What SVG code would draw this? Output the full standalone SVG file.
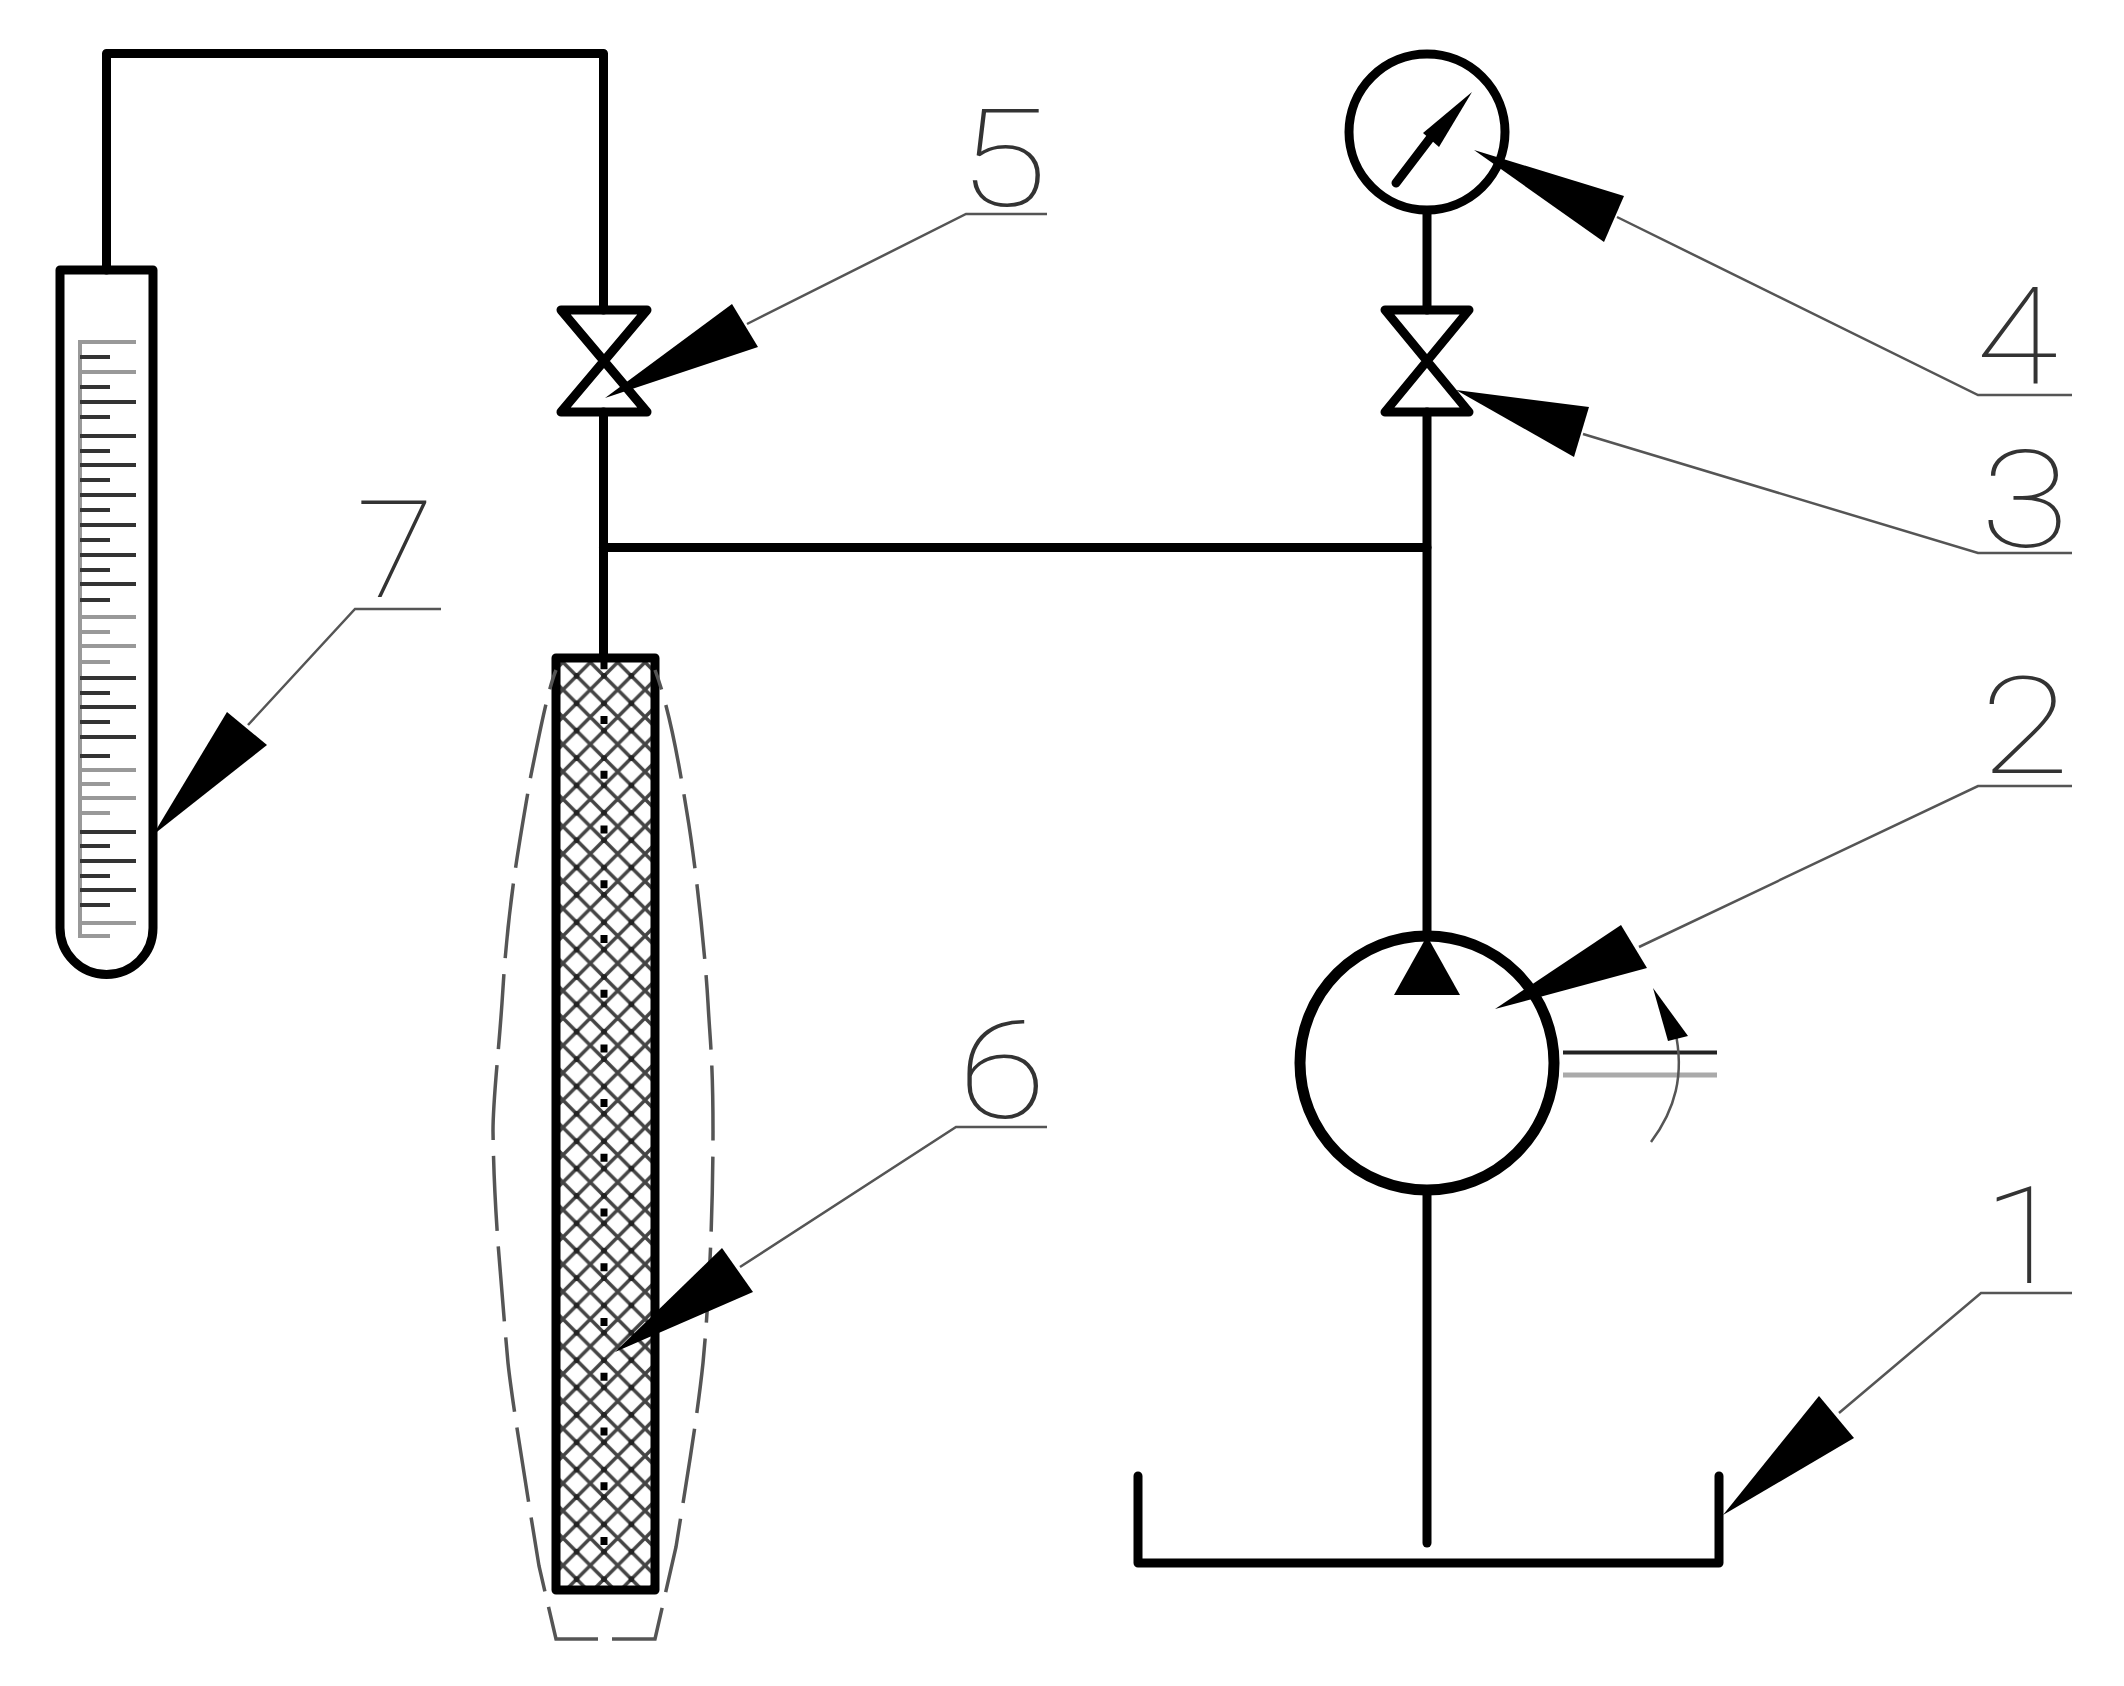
<svg xmlns="http://www.w3.org/2000/svg" width="2124" height="1686" viewBox="0 0 2124 1686">
<defs>
<style>
.p{fill:none;stroke:#000;stroke-width:9;stroke-linejoin:round;stroke-linecap:round}
.l{fill:none;stroke:#555;stroke-width:2.5}
.h{fill:#000;stroke:none}
.t{fill:none;stroke:#333;stroke-width:4}
.g{fill:none;stroke:#999;stroke-width:4}
.d{fill:none;stroke:#555;stroke-width:3.500;stroke-dasharray:75 16}
.n{font-family:"Roboto","Liberation Sans",sans-serif;font-weight:100;font-size:136px;fill:#333;text-anchor:middle}
</style>
<pattern id="hatch" width="27.37" height="27.37" patternUnits="userSpaceOnUse" x="604" y="703.300">
<rect width="27.37" height="27.37" fill="#fff"/>
<path d="M0 0L27.37 27.37M27.37 0L0 27.37" stroke="#444" stroke-width="3.500"/>
<circle cx="0" cy="0" r="3" fill="#222"/><circle cx="27.37" cy="0" r="3" fill="#222"/><circle cx="0" cy="27.37" r="3" fill="#222"/><circle cx="27.37" cy="27.37" r="3" fill="#222"/>
</pattern>
</defs>
<rect width="2124" height="1686" fill="#fff"/>
<g id="connectors">
<path class="p" d="M106.500 270V53.500H603.500V310"/>
<path class="p" d="M603.500 412V656"/>
<path class="p" d="M603.500 547.500H1427"/>
<path class="p" d="M1427 212V310"/>
<path class="p" d="M1427 412V938"/>
<path class="p" d="M1427 1195V1543"/>
</g>
<g id="tube"><path class="p" stroke-width="10" d="M60 270V928A46.500 46.500 0 0 0 153 928V270Z"/>
<path class="g" d="M80 340V938"/>
<path class="g" d="M80 342H136M80 372H136M80 617H136M80 646H136M80 770H136M80 798H136M80 923H136M80 632H110M80 662H110M80 784H110M80 813H110M80 936H110"/>
<path class="t" d="M80 402H136M80 436H136M80 465H136M80 495H136M80 525H136M80 555H136M80 584H136M80 678H136M80 707H136M80 737H136M80 832H136M80 861H136M80 890H136M80 357H110M80 387H110M80 417H110M80 451H110M80 480H110M80 510H110M80 540H110M80 570H110M80 600H110M80 693H110M80 722H110M80 756H110M80 846H110M80 876H110M80 905H110"/></g>
<g id="valve5"><path class="p" d="M561 310H647L561 412H647Z"/></g>
<g id="valve3"><path class="p" d="M1385 310H1469L1385 412H1469Z"/></g>
<g id="gauge"><circle class="p" stroke-width="7" cx="1427" cy="132" r="78"/>
<path class="p" d="M1396 183L1431 137"/><path class="h" d="M1472 92L1439 147L1423 133Z"/></g>
<g id="column"><rect x="556" y="658" width="99" height="932" fill="url(#hatch)"/>
<path d="M604 658V1588" fill="none" stroke="#000" stroke-width="7" stroke-dasharray="8 46.740" stroke-dashoffset="-3.200"/>
<rect class="p" x="556" y="658" width="99" height="932"/>
<path class="d" d="M598 1639H556L539 1566C525 1480 512 1400 508 1363C498 1250 494 1200 493 1131C493 1100 498 1060 502 1003C508 900 520 840 530 780C540 730 548 690 556 670"/>
<path class="d" d="M612 1639H655L676 1547C685 1490 697 1420 703 1363C710 1290 713 1200 713 1131C713 1060 710 1040 708 1003C705 950 695 860 687 813C680 770 670 710 655 670"/></g>
<g id="pump"><circle cx="1427" cy="1063" r="127" fill="none" stroke="#000" stroke-width="11"/>
<path class="h" d="M1427 936L1394 995H1460Z"/>
<path d="M1563 1052.500H1717" stroke="#222" stroke-width="4"/><path d="M1563 1075H1717" stroke="#aaa" stroke-width="5"/>
<path class="l" d="M1651 1142C1675 1110 1685 1075 1675 1030"/><path class="h" d="M1653 988L1668 1041L1688 1036Z"/></g>
<g id="tank"><path class="p" d="M1138 1476V1563H1719V1476"/></g>
<g id="leaders">
<path class="l" d="M2072 1293H1981L1839 1413"/><path class="h" d="M1723 1515L1819 1396L1854 1438Z"/>
<path class="l" d="M2072 786H1978L1639 947"/><path class="h" d="M1495 1009L1621 925L1647 968Z"/>
<path class="l" d="M2072 553H1978L1583 434"/><path class="h" d="M1456 390L1589 407L1574 457Z"/>
<path class="l" d="M2072 395H1978L1617 217"/><path class="h" d="M1474 150L1624 196L1604 242Z"/>
<path class="l" d="M1047 214H966L747 324"/><path class="h" d="M605 398L732 304L758 347Z"/>
<path class="l" d="M1047 1127H956L740 1267"/><path class="h" d="M615 1352L722 1248L753 1292Z"/>
<path class="l" d="M441 609H355L248 725"/><path class="h" d="M153 835L227 712L267 745Z"/>
</g>
<g id="labels">
<text class="n" transform="translate(2024 1283) scale(1.1 1)">1</text>
<text class="n" transform="translate(2025 773) scale(1.2 1)">2</text>
<text class="n" transform="translate(2025 547) scale(1.2 1)">3</text>
<text class="n" transform="translate(2017 383) scale(1.1 1)">4</text>
<text class="n" transform="translate(1003 206) scale(1.2 1)">5</text>
<text class="n" transform="translate(1002 1118) scale(1.2 1)">6</text>
<text class="n" transform="translate(395 597) scale(1.05 1)">7</text>
</g>
</svg>
